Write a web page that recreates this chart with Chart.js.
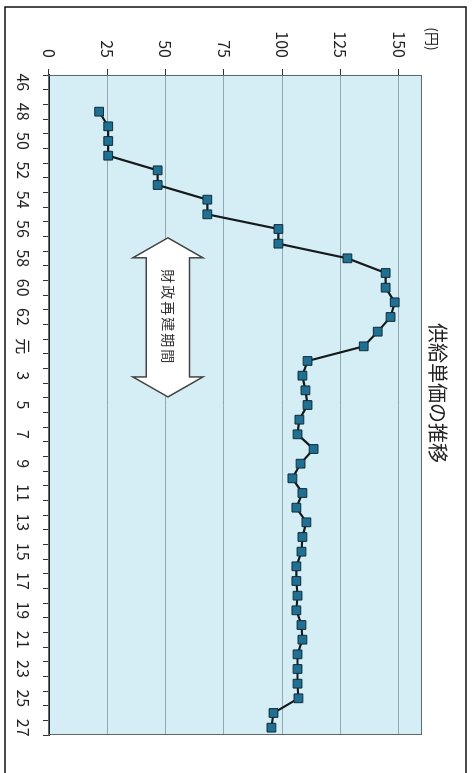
<!DOCTYPE html>
<html lang="ja">
<head>
<meta charset="UTF-8" />
<title>供給単価の推移</title>
<script src="https://cdn.jsdelivr.net/npm/chart.js"></script>
<style>
  html, body { margin: 0; padding: 0; background: #fff; overflow: hidden; }
  /* chart is drawn landscape, then turned 90deg clockwise like the scan */
  #wrap {
    position: absolute; left: 0; top: 0;
    width: 773px; height: 475px;
    transform-origin: 0 0;
    transform: translate(475px, 0) rotate(90deg);
  }
</style>
</head>
<body>
<div id="wrap"><canvas id="chart" width="773" height="475"></canvas></div>
<script>
  // 昭和46年〜平成27年
  const years = ['46','47','48','49','50','51','52','53','54','55','56','57','58','59','60','61','62','63',
                 '元','2','3','4','5','6','7','8','9','10','11','12','13','14','15','16','17','18','19','20',
                 '21','22','23','24','25','26','27'];
  const price = [null, null, 21.5, 25.4, 25.4, 25.4, 46.6, 46.6, 67.9, 67.9, 98.4, 98.4, 128, 144.4, 144.4,
                 148.3, 146.5, 141, 135, 110.9, 108.7, 110, 110.9, 107.4, 106.6, 113.5, 107.9, 104.4, 108.7,
                 106.1, 110.4, 108.7, 108.3, 106.1, 106.1, 106.6, 106.1, 108.3, 108.7, 106.6, 106.6, 106.6,
                 107, 96.3, 95.4];
  const valueTicks = [0, 25, 50, 75, 100, 125, 150];
  const titleText = '供給単価の推移';
  const unitText = '(円)';
  const periodText = '財政再建期間';
  const periodFrom = 10.6, periodTo = 21.45;   // category index
  const periodLow = 36, periodHigh = 66;       // value range of arrow heads

  const FONT = '"Noto Sans CJK JP", "Noto Sans", sans-serif';
  Chart.defaults.font.family = FONT;
  Chart.defaults.color = '#222';

  const decor = {
    id: 'decor',
    beforeDraw(chart) {
      const { ctx, chartArea: a } = chart;
      ctx.save();
      ctx.fillStyle = '#fff';
      ctx.fillRect(0, 0, chart.width, chart.height);
      ctx.fillStyle = '#d5edf5';
      ctx.fillRect(a.left, a.top, a.right - a.left, a.bottom - a.top);
      ctx.restore();
    },
    beforeDatasetsDraw(chart) {
      const { ctx, scales: { x, y } } = chart;
      const x1 = x.getPixelForValue(periodFrom), x2 = x.getPixelForValue(periodTo);
      const yt = y.getPixelForValue(periodHigh), yb = y.getPixelForValue(periodLow);
      const yc = (yt + yb) / 2, head = 20, shaft = (yb - yt) * 0.31;
      ctx.save();
      ctx.beginPath();
      ctx.moveTo(x1, yc);
      ctx.lineTo(x1 + head, yt);
      ctx.lineTo(x1 + head, yc - shaft);
      ctx.lineTo(x2 - head, yc - shaft);
      ctx.lineTo(x2 - head, yt);
      ctx.lineTo(x2, yc);
      ctx.lineTo(x2 - head, yb);
      ctx.lineTo(x2 - head, yc + shaft);
      ctx.lineTo(x1 + head, yc + shaft);
      ctx.lineTo(x1 + head, yb);
      ctx.closePath();
      ctx.fillStyle = '#fff';
      ctx.fill();
      ctx.strokeStyle = '#444';
      ctx.lineWidth = 1.5;
      ctx.stroke();
      ctx.fillStyle = '#333';
      ctx.font = '14px ' + FONT;
      ctx.letterSpacing = '2px';
      ctx.textAlign = 'center';
      ctx.textBaseline = 'middle';
      ctx.fillText(periodText, (x1 + x2) / 2, yc);
      ctx.restore();
    },
    afterDraw(chart) {
      const { ctx, chartArea: a } = chart;
      ctx.save();
      ctx.strokeStyle = '#5c6a70';
      ctx.lineWidth = 1;
      ctx.strokeRect(a.left + 0.5, a.top + 0.5, a.right - a.left - 1, a.bottom - a.top);
      // outer frame
      ctx.strokeStyle = '#111';
      ctx.lineWidth = 1.5;
      ctx.beginPath();
      ctx.moveTo(chart.width, 9);
      ctx.lineTo(7, 9);
      ctx.lineTo(7, 470);
      ctx.lineTo(chart.width, 470);
      ctx.stroke();
      ctx.fillStyle = '#222';
      ctx.textAlign = 'center';
      ctx.textBaseline = 'middle';
      ctx.font = '20px ' + FONT;
      ctx.fillText(titleText, 393, 37);
      ctx.font = '14px ' + FONT;
      ctx.fillText(unitText, 39, 43);
      ctx.restore();
    }
  };

  new Chart(document.getElementById('chart'), {
    type: 'line',
    data: {
      labels: years,
      datasets: [{
        data: price,
        borderColor: '#161a1c',
        borderWidth: 2.2,
        tension: 0,
        pointStyle: 'rect',
        pointRadius: 6.2,
        pointBackgroundColor: '#1f7092',
        pointBorderColor: '#0f2c38',
        pointBorderWidth: 1
      }]
    },
    options: {
      responsive: false,
      animation: false,
      devicePixelRatio: 1,
      layout: { padding: { top: 53, right: 38, bottom: 0, left: 0 } },
      plugins: { legend: { display: false }, tooltip: { enabled: false }, title: { display: false } },
      scales: {
        x: {
          type: 'category',
          offset: true,
          grid: { offset: true, drawOnChartArea: false, tickLength: 6, color: '#333' },
          border: { color: '#222', width: 1.5 },
          ticks: {
            autoSkip: false, maxRotation: 0, minRotation: 0, padding: 10,
            font: { size: 16 },
            callback: (v, i) => (i % 2 === 0 ? years[i] : '')
          },
          afterFit: s => { s.height = 49; }
        },
        y: {
          min: 0,
          max: 160,
          afterBuildTicks: s => { s.ticks = valueTicks.map(v => ({ value: v })); },
          grid: { color: '#93a8ae', tickLength: 6, tickColor: '#333' },
          border: { color: '#555' },
          ticks: { padding: 11, font: { size: 16 } },
          afterFit: s => { s.width = 75; }
        }
      }
    },
    plugins: [decor]
  });
</script>
</body>
</html>
